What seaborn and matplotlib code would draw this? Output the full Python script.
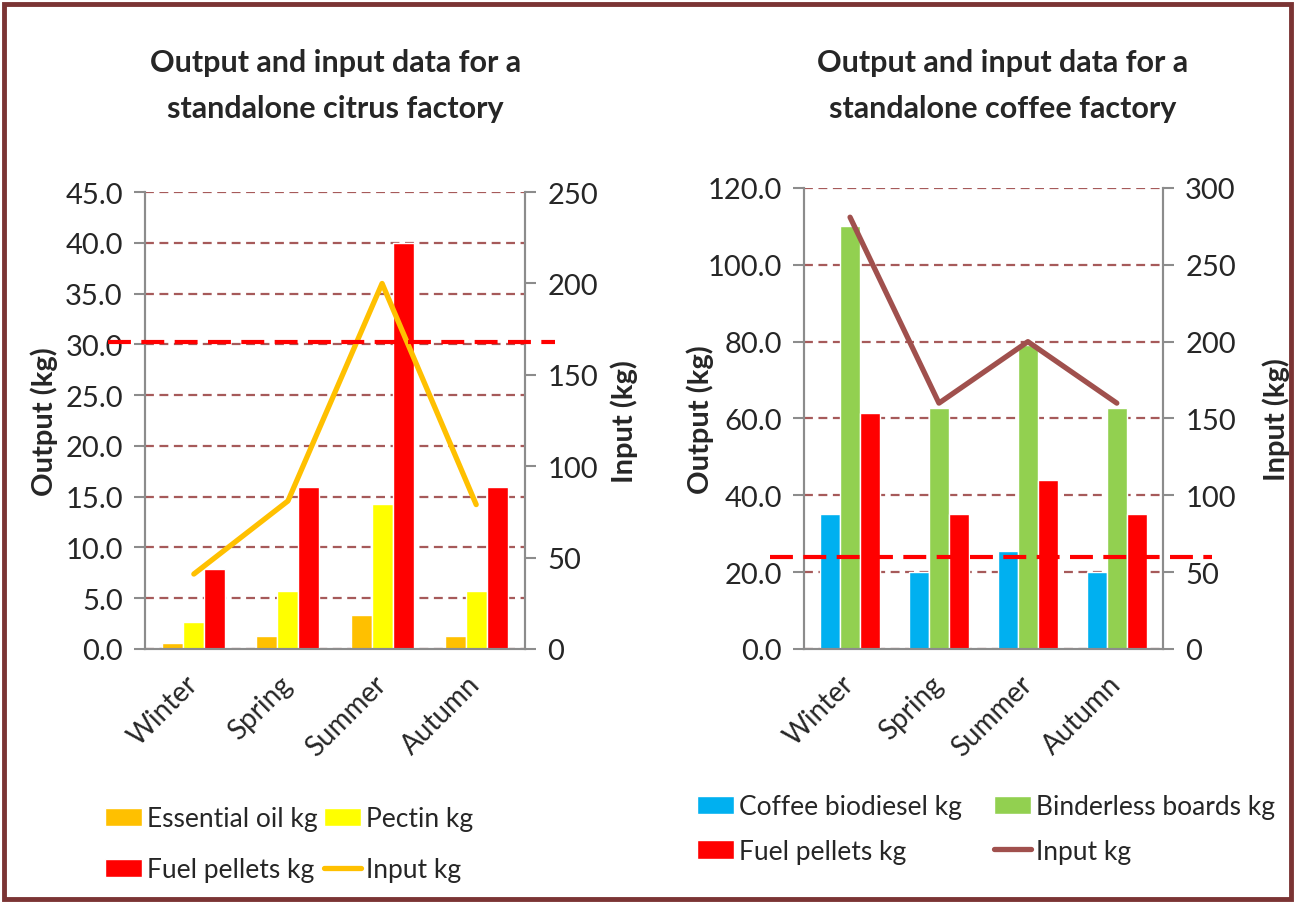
import numpy as np
import pandas as pd
import matplotlib
matplotlib.use('Agg')
import matplotlib.pyplot as plt
from matplotlib.patches import Rectangle
import seaborn as sns

seasons = ['Winter', 'Spring', 'Summer', 'Autumn']

# citrus factory
essential_oil = [0.6, 1.3, 3.3, 1.3]
pectin = [2.7, 5.7, 14.3, 5.7]
citrus_pellets = [7.9, 16.0, 40.0, 16.0]
citrus_input = [41, 81, 200, 79]
citrus_limit = 168  # on input axis

# coffee factory
coffee_biodiesel = [35.2, 20.1, 25.4, 20.1]
binderless_boards = [110.0, 62.8, 79.0, 62.8]
coffee_pellets = [61.5, 35.2, 44.0, 35.2]
coffee_input = [281, 160, 200, 160]
coffee_limit = 60  # on input axis

sns.set_theme(style='white')
plt.rcParams['font.family'] = ['Lato', 'DejaVu Sans']

grid_col = '#A65A5A'
spine_col = '#8C8C8C'


def long_table(series):
    rows = []
    for name, vals in series.items():
        for s, v in zip(seasons, vals):
            rows.append({'season': s, 'product': name, 'kg': v})
    return pd.DataFrame(rows)


def panel(fig, rect, series, colors, inp, line_col, limit, ymax, ystep, y2max,
          title, title_x, lim_span, ylab_x, ylab2_x, leg_anchor, leg_colsp,
          leg_spacing):
    ax = fig.add_axes(rect)
    df = long_table(series)
    sns.barplot(data=df, x='season', y='kg', hue='product', palette=colors,
                width=0.67, gap=0, saturation=1, ax=ax, errorbar=None)
    handles, labels = ax.get_legend_handles_labels()
    ax.get_legend().remove()

    ax.set_ylim(0, ymax)
    ax.set_yticks(np.arange(0, ymax + 0.1, ystep))
    ax.yaxis.set_major_formatter(matplotlib.ticker.FormatStrFormatter('%.1f'))
    ax.set_axisbelow(True)
    ax.grid(axis='y', color=grid_col, linestyle=(0, (4, 2.5)), linewidth=1.6)
    ax.set_xlabel('')
    ax.set_ylabel('Output (kg)', fontsize=21, fontweight='bold')
    ax.yaxis.set_label_coords(ylab_x, 0.5)

    ax.set_xticks(np.arange(-0.5, len(seasons), 1), minor=True)
    ax.tick_params(axis='x', which='major', length=0, labelsize=20, pad=22)
    ax.tick_params(axis='x', which='minor', length=8, width=1.5, color=spine_col,
                   direction='out')
    for lab in ax.get_xticklabels():
        lab.set_rotation(45)
        lab.set_ha('right')
        lab.set_va('center')
        lab.set_rotation_mode('anchor')
    ax.tick_params(axis='y', length=8, width=1.5, color=spine_col, direction='out',
                   labelsize=21, left=True, pad=8)
    ax.spines['top'].set_visible(False)
    for side in ['left', 'right', 'bottom']:
        ax.spines[side].set_color(spine_col)
        ax.spines[side].set_linewidth(1.5)

    ax2 = ax.twinx()
    sns.lineplot(x=seasons, y=inp, color=line_col, linewidth=3.8, ax=ax2,
                 label='Input kg', sort=False)
    ax2.get_legend().remove()
    ax2.set_ylim(0, y2max)
    ax2.set_yticks(np.arange(0, y2max + 1, 50))
    ax2.grid(False)
    ax2.tick_params(axis='y', length=8, width=1.5, color=spine_col,
                    direction='out', labelsize=21, right=True, pad=8)
    ax2.set_ylabel('Input (kg)', fontsize=21, fontweight='bold')
    ax2.yaxis.set_label_coords(ylab2_x, 0.5)
    ax2.spines['top'].set_visible(False)
    for side in ['left', 'right', 'bottom']:
        ax2.spines[side].set_color(spine_col)
        ax2.spines[side].set_linewidth(1.5)
    ax2.axhline(limit, xmin=lim_span[0], xmax=lim_span[1], color='#FF0000',
                linewidth=3, linestyle=(0, (5.5, 2.5)), clip_on=False, zorder=5)

    lh, ll = ax2.get_legend_handles_labels()
    handles += lh
    labels += ll
    order = [0, 2, 1, 3]
    fig.legend([handles[i] for i in order], [labels[i] for i in order],
               loc='upper left', bbox_to_anchor=leg_anchor, ncol=2,
               frameon=False, fontsize=19, handlelength=1.4, handleheight=0.7,
               handletextpad=0.2, columnspacing=leg_colsp,
               labelspacing=leg_spacing, borderaxespad=0)

    fig.text(title_x, 0.905, title, ha='center', va='center', fontsize=22,
             fontweight='bold', linespacing=1.8)
    return ax, ax2


fig = plt.figure(figsize=(12.95, 9.03), dpi=100)

panel(fig, [0.112, 0.2802, 0.2934, 0.506],
      {'Essential oil kg': essential_oil, 'Pectin kg': pectin,
       'Fuel pellets kg': citrus_pellets},
      ['#FFC000', '#FFFF00', '#FF0000'], citrus_input, '#FFC000', citrus_limit,
      45, 5, 250, 'Output and input data for a\nstandalone citrus factory',
      0.259, (-0.097, 1.08), -0.229, 1.225, (0.0726, 0.118), 0.25, 1.0)

panel(fig, [0.6208, 0.2802, 0.2772, 0.5105],
      {'Coffee biodiesel kg': coffee_biodiesel,
       'Binderless boards kg': binderless_boards,
       'Fuel pellets kg': coffee_pellets},
      ['#00B0F0', '#92D050', '#FF0000'], coffee_input, '#A0504D', coffee_limit,
      120, 20, 300, 'Output and input data for a\nstandalone coffee factory',
      0.7745, (-0.095, 1.137), -0.251, 1.276, (0.530, 0.131), 1.2, 0.73)

fig.patches.append(Rectangle((0.003, 0.003), 0.994, 0.991,
                             transform=fig.transFigure, fill=False,
                             edgecolor='#7B3434', linewidth=3.5))

fig.savefig('out.png', dpi=100)
